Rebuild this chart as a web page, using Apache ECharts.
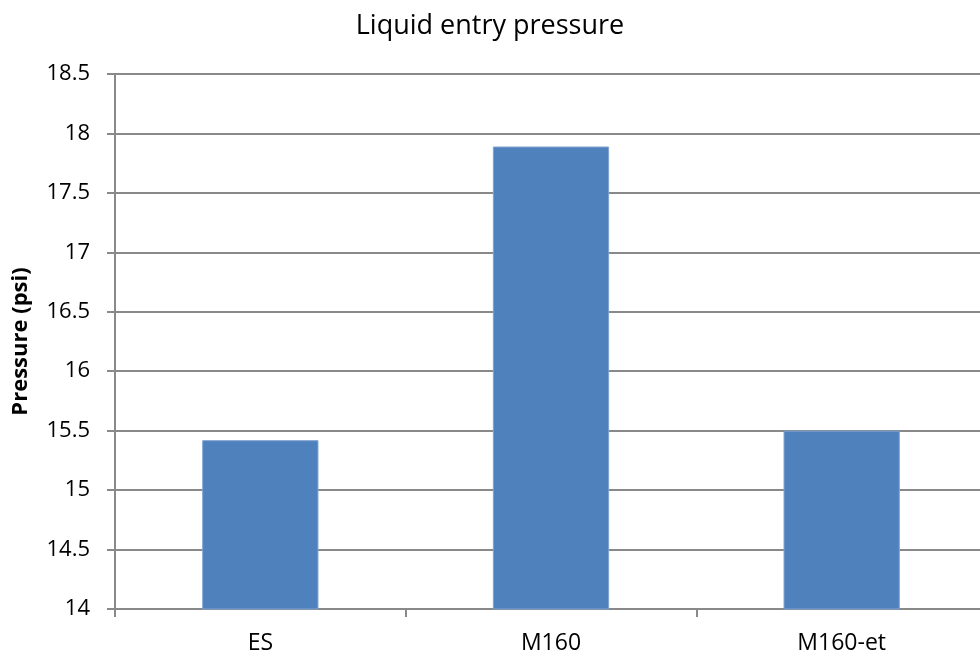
<!DOCTYPE html>
<html>
<head>
<meta charset="utf-8">
<style>
  html, body { margin: 0; padding: 0; background: #fff; }
  #chart { width: 980px; height: 659px; }
</style>
<script src="https://cdn.jsdelivr.net/npm/echarts@6/dist/echarts.min.js"></script>
</head>
<body>
<div id="chart"></div>
<script>
// Membrane samples and their measured liquid entry pressure (psi)
const categories = ['ES', 'M160', 'M160-et'];
const pressureValues = [15.42, 17.89, 15.5];
const chartTitle = 'Liquid entry pressure';
const yAxisName = 'Pressure (psi)';
const yMin = 14, yMax = 18.5, yStep = 0.5;

const lineGrey = '#898989';
const fontFamily = '"Open Sans", sans-serif';

const chart = echarts.init(document.getElementById('chart'));
chart.setOption({
  animation: false,
  title: {
    text: chartTitle,
    left: 'center',
    top: 8,
    textStyle: { fontFamily, fontSize: 27, fontWeight: 'normal', color: '#000' }
  },
  grid: {
    left: 115, top: 74, width: 872, height: 535,
    containLabel: false,
    outerBoundsMode: 'none'
  },
  xAxis: {
    type: 'category',
    data: categories,
    axisLine: { lineStyle: { color: lineGrey, width: 2 } },
    axisTick: { show: true, length: 8, alignWithLabel: false, lineStyle: { color: lineGrey, width: 2 } },
    axisLabel: { fontFamily, fontSize: 23, color: '#000', margin: 23 }
  },
  yAxis: {
    type: 'value',
    min: yMin,
    max: yMax,
    interval: yStep,
    name: yAxisName,
    nameLocation: 'middle',
    nameGap: 83,
    nameTextStyle: { fontFamily, fontSize: 22, fontWeight: 'bold', color: '#000' },
    axisLine: { show: true, lineStyle: { color: lineGrey, width: 2 } },
    axisTick: { show: true, length: 8, lineStyle: { color: lineGrey, width: 2 } },
    axisLabel: {
      fontFamily, fontSize: 22, color: '#000', margin: 25,
      formatter: v => String(Math.round(v * 10) / 10)
    },
    splitLine: { show: true, lineStyle: { color: lineGrey, width: 2 } }
  },
  series: [{
    type: 'bar',
    data: pressureValues,
    barWidth: '40%',
    itemStyle: { color: '#4F81BD', borderColor: '#7FA3D0', borderWidth: 1 }
  }]
});
</script>
</body>
</html>
